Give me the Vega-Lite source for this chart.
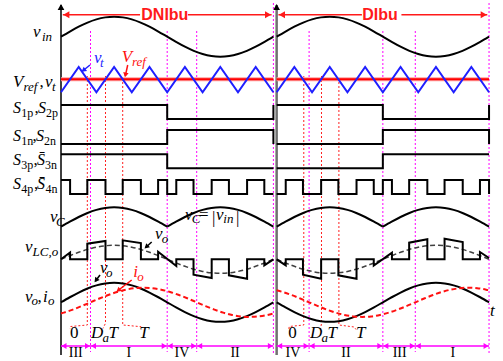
{
"$schema":"https://vega.github.io/schema/vega-lite/v6.json",
"width":503,"height":361,"padding":0,"autosize":{"type":"none"},
"background":"#ffffff",
"config":{"view":{"stroke":null}},
"datasets":{
"baselines":[{"y":36.7},{"y":92.3},{"y":119},{"y":144},{"y":168.3},{"y":194},{"y":226.7},{"y":259.3},{"y":302.3}]
},
"encoding":{
"x":{"field":"t","type":"quantitative","scale":{"domain":[-103.39,749.15],"nice":false,"zero":false},"axis":null},
"y":{"field":"y","type":"quantitative","scale":{"domain":[0,361],"reverse":true,"nice":false,"zero":false},"axis":null}
},
"layer":[
{"data":{"name":"baselines"},"mark":{"type":"rule","color":"#8c8c8c","strokeWidth":1},"encoding":{"x":{"datum":0},"x2":{"datum":737}}},
{"data":{"name":"baselines"},"mark":{"type":"point","shape":"triangle-right","filled":true,"color":"#000000","size":40,"opacity":1},"encoding":{"x":{"datum":739}}},
{"data":{"values":[{"t":50,"y":31,"y2":352},{"t":180,"y":31,"y2":352},{"t":230,"y":31,"y2":352},{"t":360,"y":3,"y2":353},{"t":420.5,"y":31,"y2":352},{"t":545.5,"y":31,"y2":352},{"t":600.5,"y":31,"y2":352},{"t":725.5,"y":3,"y2":353}]},
 "mark":{"type":"rule","color":"#ff00ff","strokeWidth":1,"strokeDash":[2,2]},"encoding":{"y2":{"field":"y2"}}},
{"data":{"values":[
{"id":"l1","t":44.6,"y":76},{"id":"l1","t":44.6,"y":325},{"id":"l1","t":16.4,"y":326.5},{"id":"l1","t":15.3,"y":329},
{"id":"l2","t":75.4,"y":76},{"id":"l2","t":75.4,"y":323.3},{"id":"l2","t":71,"y":328.5},
{"id":"l3","t":104.6,"y":78},{"id":"l3","t":104.6,"y":325},{"id":"l3","t":135.6,"y":326.7},{"id":"l3","t":136.8,"y":329.5},
{"id":"l4","t":411.5,"y":76},{"id":"l4","t":411.5,"y":325},{"id":"l4","t":386.9,"y":326.5},{"id":"l4","t":386,"y":329.5},
{"id":"l5","t":441.5,"y":76},{"id":"l5","t":441.5,"y":323.3},{"id":"l5","t":440,"y":329},
{"id":"l6","t":471,"y":78},{"id":"l6","t":471,"y":325},{"id":"l6","t":497,"y":327},{"id":"l6","t":500,"y":329.5}]},
 "mark":{"type":"line","color":"#ff2020","strokeWidth":1,"strokeDash":[2,2]},"encoding":{"detail":{"field":"id"},"order":{"value":null}}},
{"data":{"values":[{"t":0,"y":5,"y2":355}]},"mark":{"type":"rule","color":"#000000","strokeWidth":1.5},"encoding":{"y2":{"field":"y2"}}},
{"data":{"values":[{"t":365.5,"y":5,"y2":355}]},"mark":{"type":"rule","color":"#707070","strokeWidth":2.5},"encoding":{"y2":{"field":"y2"}}},
{"data":{"values":[{"t":0,"y":7},{"t":365.5,"y":7}]},"mark":{"type":"point","shape":"triangle-up","filled":true,"color":"#000000","size":45,"opacity":1}},
{"data":{"values":[{"id":"r1","t":0,"y":79.3},{"id":"r1","t":360,"y":79.3},{"id":"r2","t":365.5,"y":79.3},{"id":"r2","t":725.5,"y":79.3}]},
 "mark":{"type":"line","color":"#ff9c9c","strokeWidth":4},"encoding":{"detail":{"field":"id"}}},
{"data":{"values":[{"id":"r1","t":0,"y":79.3},{"id":"r1","t":360,"y":79.3},{"id":"r2","t":365.5,"y":79.3},{"id":"r2","t":725.5,"y":79.3}]},
 "mark":{"type":"line","color":"#ff0000","strokeWidth":2},"encoding":{"detail":{"field":"id"}}},
{"data":{"values":[
{"id":"vt1","t":0,"y":92.3},{"id":"vt1","t":30,"y":67},{"id":"vt1","t":60,"y":92.3},{"id":"vt1","t":90,"y":67},{"id":"vt1","t":120,"y":92.3},{"id":"vt1","t":150,"y":67},{"id":"vt1","t":180,"y":92.3},{"id":"vt1","t":210,"y":67},{"id":"vt1","t":240,"y":92.3},{"id":"vt1","t":270,"y":67},{"id":"vt1","t":300,"y":92.3},{"id":"vt1","t":330,"y":67},{"id":"vt1","t":360,"y":92.3},
{"id":"vt2","t":365.5,"y":92.3},{"id":"vt2","t":395.5,"y":67},{"id":"vt2","t":425.5,"y":92.3},{"id":"vt2","t":455.5,"y":67},{"id":"vt2","t":485.5,"y":92.3},{"id":"vt2","t":515.5,"y":67},{"id":"vt2","t":545.5,"y":92.3},{"id":"vt2","t":575.5,"y":67},{"id":"vt2","t":605.5,"y":92.3},{"id":"vt2","t":635.5,"y":67},{"id":"vt2","t":665.5,"y":92.3},{"id":"vt2","t":695.5,"y":67},{"id":"vt2","t":725.5,"y":92.3}]},
 "mark":{"type":"line","color":"#1f1fff","strokeWidth":2},"encoding":{"detail":{"field":"id"}}},
{"data":{"values":[
{"id":"vin1","t":0,"y":36.7},{"id":"vin1","t":15,"y":31.52},{"id":"vin1","t":30,"y":26.7},{"id":"vin1","t":45,"y":22.56},{"id":"vin1","t":60,"y":19.38},{"id":"vin1","t":75,"y":17.38},{"id":"vin1","t":90,"y":16.7},{"id":"vin1","t":105,"y":17.38},{"id":"vin1","t":120,"y":19.38},{"id":"vin1","t":135,"y":22.56},{"id":"vin1","t":150,"y":26.7},{"id":"vin1","t":165,"y":31.52},{"id":"vin1","t":180,"y":36.7},{"id":"vin1","t":195,"y":41.88},{"id":"vin1","t":210,"y":46.7},{"id":"vin1","t":225,"y":50.84},{"id":"vin1","t":240,"y":54.02},{"id":"vin1","t":255,"y":56.02},{"id":"vin1","t":270,"y":56.7},{"id":"vin1","t":285,"y":56.02},{"id":"vin1","t":300,"y":54.02},{"id":"vin1","t":315,"y":50.84},{"id":"vin1","t":330,"y":46.7},{"id":"vin1","t":345,"y":41.88},{"id":"vin1","t":360,"y":36.7},
{"id":"vin2","t":365.5,"y":36.7},{"id":"vin2","t":380.5,"y":31.52},{"id":"vin2","t":395.5,"y":26.7},{"id":"vin2","t":410.5,"y":22.56},{"id":"vin2","t":425.5,"y":19.38},{"id":"vin2","t":440.5,"y":17.38},{"id":"vin2","t":455.5,"y":16.7},{"id":"vin2","t":470.5,"y":17.38},{"id":"vin2","t":485.5,"y":19.38},{"id":"vin2","t":500.5,"y":22.56},{"id":"vin2","t":515.5,"y":26.7},{"id":"vin2","t":530.5,"y":31.52},{"id":"vin2","t":545.5,"y":36.7},{"id":"vin2","t":560.5,"y":41.88},{"id":"vin2","t":575.5,"y":46.7},{"id":"vin2","t":590.5,"y":50.84},{"id":"vin2","t":605.5,"y":54.02},{"id":"vin2","t":620.5,"y":56.02},{"id":"vin2","t":635.5,"y":56.7},{"id":"vin2","t":650.5,"y":56.02},{"id":"vin2","t":665.5,"y":54.02},{"id":"vin2","t":680.5,"y":50.84},{"id":"vin2","t":695.5,"y":46.7},{"id":"vin2","t":710.5,"y":41.88},{"id":"vin2","t":725.5,"y":36.7},
{"id":"vc1","t":0,"y":226.7},{"id":"vc1","t":15,"y":221.68},{"id":"vc1","t":30,"y":217.0},{"id":"vc1","t":45,"y":212.98},{"id":"vc1","t":60,"y":209.9},{"id":"vc1","t":75,"y":207.96},{"id":"vc1","t":90,"y":207.3},{"id":"vc1","t":105,"y":207.96},{"id":"vc1","t":120,"y":209.9},{"id":"vc1","t":135,"y":212.98},{"id":"vc1","t":150,"y":217.0},{"id":"vc1","t":165,"y":221.68},{"id":"vc1","t":180,"y":226.7},
{"id":"vc2","t":180,"y":226.7},{"id":"vc2","t":195,"y":221.68},{"id":"vc2","t":210,"y":217.0},{"id":"vc2","t":225,"y":212.98},{"id":"vc2","t":240,"y":209.9},{"id":"vc2","t":255,"y":207.96},{"id":"vc2","t":270,"y":207.3},{"id":"vc2","t":285,"y":207.96},{"id":"vc2","t":300,"y":209.9},{"id":"vc2","t":315,"y":212.98},{"id":"vc2","t":330,"y":217.0},{"id":"vc2","t":345,"y":221.68},{"id":"vc2","t":360,"y":226.7},
{"id":"vc3","t":365.5,"y":226.7},{"id":"vc3","t":380.5,"y":221.68},{"id":"vc3","t":395.5,"y":217.0},{"id":"vc3","t":410.5,"y":212.98},{"id":"vc3","t":425.5,"y":209.9},{"id":"vc3","t":440.5,"y":207.96},{"id":"vc3","t":455.5,"y":207.3},{"id":"vc3","t":470.5,"y":207.96},{"id":"vc3","t":485.5,"y":209.9},{"id":"vc3","t":500.5,"y":212.98},{"id":"vc3","t":515.5,"y":217.0},{"id":"vc3","t":530.5,"y":221.68},{"id":"vc3","t":545.5,"y":226.7},
{"id":"vc4","t":545.5,"y":226.7},{"id":"vc4","t":560.5,"y":221.68},{"id":"vc4","t":575.5,"y":217.0},{"id":"vc4","t":590.5,"y":212.98},{"id":"vc4","t":605.5,"y":209.9},{"id":"vc4","t":620.5,"y":207.96},{"id":"vc4","t":635.5,"y":207.3},{"id":"vc4","t":650.5,"y":207.96},{"id":"vc4","t":665.5,"y":209.9},{"id":"vc4","t":680.5,"y":212.98},{"id":"vc4","t":695.5,"y":217.0},{"id":"vc4","t":710.5,"y":221.68},{"id":"vc4","t":725.5,"y":226.7},
{"id":"vo1","t":0,"y":302.3},{"id":"vo1","t":15,"y":297.25},{"id":"vo1","t":30,"y":292.55},{"id":"vo1","t":45,"y":288.51},{"id":"vo1","t":60,"y":285.41},{"id":"vo1","t":75,"y":283.46},{"id":"vo1","t":90,"y":282.8},{"id":"vo1","t":105,"y":283.46},{"id":"vo1","t":120,"y":285.41},{"id":"vo1","t":135,"y":288.51},{"id":"vo1","t":150,"y":292.55},{"id":"vo1","t":165,"y":297.25},{"id":"vo1","t":180,"y":302.3},{"id":"vo1","t":195,"y":307.35},{"id":"vo1","t":210,"y":312.05},{"id":"vo1","t":225,"y":316.09},{"id":"vo1","t":240,"y":319.19},{"id":"vo1","t":255,"y":321.14},{"id":"vo1","t":270,"y":321.8},{"id":"vo1","t":285,"y":321.14},{"id":"vo1","t":300,"y":319.19},{"id":"vo1","t":315,"y":316.09},{"id":"vo1","t":330,"y":312.05},{"id":"vo1","t":345,"y":307.35},{"id":"vo1","t":360,"y":302.3},
{"id":"vo2","t":365.5,"y":302.3},{"id":"vo2","t":380.5,"y":307.35},{"id":"vo2","t":395.5,"y":312.05},{"id":"vo2","t":410.5,"y":316.09},{"id":"vo2","t":425.5,"y":319.19},{"id":"vo2","t":440.5,"y":321.14},{"id":"vo2","t":455.5,"y":321.8},{"id":"vo2","t":470.5,"y":321.14},{"id":"vo2","t":485.5,"y":319.19},{"id":"vo2","t":500.5,"y":316.09},{"id":"vo2","t":515.5,"y":312.05},{"id":"vo2","t":530.5,"y":307.35},{"id":"vo2","t":545.5,"y":302.3},{"id":"vo2","t":560.5,"y":297.25},{"id":"vo2","t":575.5,"y":292.55},{"id":"vo2","t":590.5,"y":288.51},{"id":"vo2","t":605.5,"y":285.41},{"id":"vo2","t":620.5,"y":283.46},{"id":"vo2","t":635.5,"y":282.8},{"id":"vo2","t":650.5,"y":283.46},{"id":"vo2","t":665.5,"y":285.41},{"id":"vo2","t":680.5,"y":288.51},{"id":"vo2","t":695.5,"y":292.55},{"id":"vo2","t":710.5,"y":297.25},{"id":"vo2","t":725.5,"y":302.3}]},
 "mark":{"type":"line","color":"#000000","strokeWidth":2,"interpolate":"monotone"},"encoding":{"detail":{"field":"id"}}},
{"data":{"values":[
{"id":"d1","t":0,"y":259.3},{"id":"d1","t":15,"y":255.68},{"id":"d1","t":30,"y":252.3},{"id":"d1","t":45,"y":249.4},{"id":"d1","t":60,"y":247.18},{"id":"d1","t":75,"y":245.78},{"id":"d1","t":90,"y":245.3},{"id":"d1","t":105,"y":245.78},{"id":"d1","t":120,"y":247.18},{"id":"d1","t":135,"y":249.4},{"id":"d1","t":150,"y":252.3},{"id":"d1","t":165,"y":255.68},{"id":"d1","t":180,"y":259.3},{"id":"d1","t":195,"y":262.92},{"id":"d1","t":210,"y":266.3},{"id":"d1","t":225,"y":269.2},{"id":"d1","t":240,"y":271.42},{"id":"d1","t":255,"y":272.82},{"id":"d1","t":270,"y":273.3},{"id":"d1","t":285,"y":272.82},{"id":"d1","t":300,"y":271.42},{"id":"d1","t":315,"y":269.2},{"id":"d1","t":330,"y":266.3},{"id":"d1","t":345,"y":262.92},{"id":"d1","t":360,"y":259.3},
{"id":"d2","t":365.5,"y":259.3},{"id":"d2","t":380.5,"y":262.92},{"id":"d2","t":395.5,"y":266.3},{"id":"d2","t":410.5,"y":269.2},{"id":"d2","t":425.5,"y":271.42},{"id":"d2","t":440.5,"y":272.82},{"id":"d2","t":455.5,"y":273.3},{"id":"d2","t":470.5,"y":272.82},{"id":"d2","t":485.5,"y":271.42},{"id":"d2","t":500.5,"y":269.2},{"id":"d2","t":515.5,"y":266.3},{"id":"d2","t":530.5,"y":262.92},{"id":"d2","t":545.5,"y":259.3},{"id":"d2","t":560.5,"y":255.68},{"id":"d2","t":575.5,"y":252.3},{"id":"d2","t":590.5,"y":249.4},{"id":"d2","t":605.5,"y":247.18},{"id":"d2","t":620.5,"y":245.78},{"id":"d2","t":635.5,"y":245.3},{"id":"d2","t":650.5,"y":245.78},{"id":"d2","t":665.5,"y":247.18},{"id":"d2","t":680.5,"y":249.4},{"id":"d2","t":695.5,"y":252.3},{"id":"d2","t":710.5,"y":255.68},{"id":"d2","t":725.5,"y":259.3}]},
 "mark":{"type":"line","color":"#404040","strokeWidth":1.5,"strokeDash":[5,3],"interpolate":"monotone"},"encoding":{"detail":{"field":"id"}}},
{"data":{"values":[
{"id":"s1p1","t":0,"y":105},{"id":"s1p1","t":180,"y":105},{"id":"s1p1","t":180,"y":119},{"id":"s1p1","t":360,"y":119},{"id":"s1p1","t":360,"y":105},
{"id":"s1p2","t":365.5,"y":105},{"id":"s1p2","t":545.5,"y":105},{"id":"s1p2","t":545.5,"y":119},{"id":"s1p2","t":725.5,"y":119},{"id":"s1p2","t":725.5,"y":105},
{"id":"s1n1","t":0,"y":144},{"id":"s1n1","t":180,"y":144},{"id":"s1n1","t":180,"y":130},{"id":"s1n1","t":360,"y":130},{"id":"s1n1","t":360,"y":144},
{"id":"s1n2","t":365.5,"y":144},{"id":"s1n2","t":545.5,"y":144},{"id":"s1n2","t":545.5,"y":130},{"id":"s1n2","t":725.5,"y":130},{"id":"s1n2","t":725.5,"y":144},
{"id":"s3p1","t":0,"y":154.3},{"id":"s3p1","t":180,"y":154.3},{"id":"s3p1","t":180,"y":168.3},{"id":"s3p1","t":360,"y":168.3},
{"id":"s3p2","t":365.5,"y":168.3},{"id":"s3p2","t":545.5,"y":168.3},{"id":"s3p2","t":545.5,"y":154.3},{"id":"s3p2","t":725.5,"y":154.3},
{"id":"s41","t":0,"y":180},{"id":"s41","t":15.4,"y":180},{"id":"s41","t":15.4,"y":194},{"id":"s41","t":44.6,"y":194},{"id":"s41","t":44.6,"y":180},{"id":"s41","t":75.4,"y":180},{"id":"s41","t":75.4,"y":194},{"id":"s41","t":104.6,"y":194},{"id":"s41","t":104.6,"y":180},{"id":"s41","t":135.4,"y":180},{"id":"s41","t":135.4,"y":194},{"id":"s41","t":164.6,"y":194},{"id":"s41","t":164.6,"y":180},{"id":"s41","t":180,"y":180},{"id":"s41","t":180,"y":194},{"id":"s41","t":195.4,"y":194},{"id":"s41","t":195.4,"y":180},{"id":"s41","t":224.6,"y":180},{"id":"s41","t":224.6,"y":194},{"id":"s41","t":255.4,"y":194},{"id":"s41","t":255.4,"y":180},{"id":"s41","t":284.6,"y":180},{"id":"s41","t":284.6,"y":194},{"id":"s41","t":315.4,"y":194},{"id":"s41","t":315.4,"y":180},{"id":"s41","t":344.6,"y":180},{"id":"s41","t":344.6,"y":194},{"id":"s41","t":360,"y":194},
{"id":"s42","t":365.5,"y":194},{"id":"s42","t":380.9,"y":194},{"id":"s42","t":380.9,"y":180},{"id":"s42","t":410.1,"y":180},{"id":"s42","t":410.1,"y":194},{"id":"s42","t":440.9,"y":194},{"id":"s42","t":440.9,"y":180},{"id":"s42","t":470.1,"y":180},{"id":"s42","t":470.1,"y":194},{"id":"s42","t":500.9,"y":194},{"id":"s42","t":500.9,"y":180},{"id":"s42","t":530.1,"y":180},{"id":"s42","t":530.1,"y":194},{"id":"s42","t":545.5,"y":194},{"id":"s42","t":545.5,"y":180},{"id":"s42","t":560.9,"y":180},{"id":"s42","t":560.9,"y":194},{"id":"s42","t":590.1,"y":194},{"id":"s42","t":590.1,"y":180},{"id":"s42","t":620.9,"y":180},{"id":"s42","t":620.9,"y":194},{"id":"s42","t":650.1,"y":194},{"id":"s42","t":650.1,"y":180},{"id":"s42","t":680.9,"y":180},{"id":"s42","t":680.9,"y":194},{"id":"s42","t":710.1,"y":194},{"id":"s42","t":710.1,"y":180},{"id":"s42","t":725.5,"y":180},{"id":"s42","t":725.5,"y":194},
{"id":"lc1","t":0,"y":259.3},{"id":"lc1","t":15.4,"y":252.5},{"id":"lc1","t":15.4,"y":259.3},{"id":"lc1","t":44.6,"y":259.3},{"id":"lc1","t":44.6,"y":243.7},{"id":"lc1","t":75.4,"y":241},{"id":"lc1","t":75.4,"y":259.3},{"id":"lc1","t":104.6,"y":259.3},{"id":"lc1","t":104.6,"y":240.3},{"id":"lc1","t":135.4,"y":243},{"id":"lc1","t":135.4,"y":259.3},{"id":"lc1","t":164.6,"y":259.3},{"id":"lc1","t":164.6,"y":251.7},{"id":"lc1","t":195.4,"y":266},{"id":"lc1","t":195.4,"y":259.3},{"id":"lc1","t":224.6,"y":259.3},{"id":"lc1","t":224.6,"y":274.7},{"id":"lc1","t":255.4,"y":278},{"id":"lc1","t":255.4,"y":259.3},{"id":"lc1","t":284.6,"y":259.3},{"id":"lc1","t":284.6,"y":275.3},{"id":"lc1","t":315.4,"y":278.7},{"id":"lc1","t":315.4,"y":259.3},{"id":"lc1","t":344.6,"y":259.3},{"id":"lc1","t":344.6,"y":265.3},{"id":"lc1","t":360,"y":259.3},
{"id":"lc2","t":365.5,"y":259.3},{"id":"lc2","t":380.9,"y":265.3},{"id":"lc2","t":380.9,"y":259.3},{"id":"lc2","t":410.1,"y":259.3},{"id":"lc2","t":410.1,"y":274.7},{"id":"lc2","t":440.9,"y":278.7},{"id":"lc2","t":440.9,"y":259.3},{"id":"lc2","t":470.1,"y":259.3},{"id":"lc2","t":470.1,"y":275.3},{"id":"lc2","t":500.9,"y":278.7},{"id":"lc2","t":500.9,"y":259.3},{"id":"lc2","t":530.1,"y":259.3},{"id":"lc2","t":530.1,"y":265.5},{"id":"lc2","t":560.9,"y":252.7},{"id":"lc2","t":560.9,"y":259.3},{"id":"lc2","t":590.1,"y":259.3},{"id":"lc2","t":590.1,"y":242.7},{"id":"lc2","t":620.9,"y":239.3},{"id":"lc2","t":620.9,"y":259.3},{"id":"lc2","t":650.1,"y":259.3},{"id":"lc2","t":650.1,"y":238.7},{"id":"lc2","t":680.9,"y":242},{"id":"lc2","t":680.9,"y":259.3},{"id":"lc2","t":710.1,"y":259.3},{"id":"lc2","t":710.1,"y":252},{"id":"lc2","t":725.5,"y":258}]},
 "mark":{"type":"line","color":"#000000","strokeWidth":2},"encoding":{"detail":{"field":"id"},"order":{"value":null}}},
{"data":{"values":[
{"id":"io1","t":0,"y":313.48},{"id":"io1","t":5,"y":312.62},{"id":"io1","t":20,"y":309.6},{"id":"io1","t":35,"y":306.08},{"id":"io1","t":50,"y":302.3},{"id":"io1","t":65,"y":298.52},{"id":"io1","t":80,"y":295.0},{"id":"io1","t":95,"y":291.98},{"id":"io1","t":110,"y":289.66},{"id":"io1","t":125,"y":288.2},{"id":"io1","t":140,"y":287.7},{"id":"io1","t":155,"y":288.2},{"id":"io1","t":170,"y":289.66},{"id":"io1","t":185,"y":291.98},{"id":"io1","t":200,"y":295.0},{"id":"io1","t":215,"y":298.52},{"id":"io1","t":230,"y":302.3},{"id":"io1","t":245,"y":306.08},{"id":"io1","t":260,"y":309.6},{"id":"io1","t":275,"y":312.62},{"id":"io1","t":290,"y":314.94},{"id":"io1","t":305,"y":316.4},{"id":"io1","t":320,"y":316.9},{"id":"io1","t":335,"y":316.4},{"id":"io1","t":350,"y":314.94},{"id":"io1","t":360,"y":313.48},
{"id":"io2","t":365.5,"y":290.34},{"id":"io2","t":375.5,"y":291.98},{"id":"io2","t":390.5,"y":294.99},{"id":"io2","t":405.5,"y":298.52},{"id":"io2","t":420.5,"y":302.3},{"id":"io2","t":435.5,"y":306.08},{"id":"io2","t":450.5,"y":309.6},{"id":"io2","t":465.5,"y":312.62},{"id":"io2","t":480.5,"y":314.94},{"id":"io2","t":495.5,"y":316.4},{"id":"io2","t":510.5,"y":316.9},{"id":"io2","t":525.5,"y":316.4},{"id":"io2","t":540.5,"y":314.94},{"id":"io2","t":555.5,"y":312.62},{"id":"io2","t":570.5,"y":309.6},{"id":"io2","t":585.5,"y":306.08},{"id":"io2","t":600.5,"y":302.3},{"id":"io2","t":615.5,"y":298.52},{"id":"io2","t":630.5,"y":295.0},{"id":"io2","t":645.5,"y":291.98},{"id":"io2","t":660.5,"y":289.66},{"id":"io2","t":675.5,"y":288.2},{"id":"io2","t":690.5,"y":287.7},{"id":"io2","t":705.5,"y":288.2},{"id":"io2","t":720.5,"y":289.66},{"id":"io2","t":725.5,"y":290.34}]},
 "mark":{"type":"line","color":"#ff1010","strokeWidth":2,"strokeDash":[5,3],"interpolate":"monotone"},"encoding":{"detail":{"field":"id"}}},
{"data":{"values":[{"t":0,"t2":360,"y":346},{"t":365.5,"t2":725.5,"y":346}]},"mark":{"type":"rule","color":"#ff00ff","strokeWidth":1.5},"encoding":{"x2":{"field":"t2"}}},
{"data":{"values":[{"t":45,"y":346},{"t":175,"y":346},{"t":225,"y":346},{"t":355,"y":346},{"t":415.5,"y":346},{"t":540.5,"y":346},{"t":595.5,"y":346},{"t":720.5,"y":346}]},"mark":{"type":"point","shape":"triangle-right","filled":true,"color":"#ff00ff","size":35,"opacity":1}},
{"data":{"values":[{"t":5,"y":346},{"t":55,"y":346},{"t":185,"y":346},{"t":235,"y":346},{"t":370.5,"y":346},{"t":425.5,"y":346},{"t":550.5,"y":346},{"t":605.5,"y":346}]},"mark":{"type":"point","shape":"triangle-left","filled":true,"color":"#ff00ff","size":35,"opacity":1}},
{"data":{"values":[{"t":3,"t2":134,"y":14.7},{"t":215,"t2":357,"y":14.7},{"t":368.5,"t2":510,"y":14.7},{"t":577,"t2":722.5,"y":14.7}]},"mark":{"type":"rule","color":"#ff1a1a","strokeWidth":1.5},"encoding":{"x2":{"field":"t2"}}},
{"data":{"values":[{"t":9,"y":14.7},{"t":374.5,"y":14.7}]},"mark":{"type":"point","shape":"triangle-left","filled":true,"color":"#ff1a1a","size":50,"opacity":1}},
{"data":{"values":[{"t":351,"y":14.7},{"t":716.5,"y":14.7}]},"mark":{"type":"point","shape":"triangle-right","filled":true,"color":"#ff1a1a","size":50,"opacity":1}},
{"data":{"values":[{"t":176,"y":15,"text":"DNIbu"},{"t":540.7,"y":15,"text":"DIbu"}]},"mark":{"type":"text","font":"Liberation Sans","fontWeight":"bold","fontSize":16,"color":"#ff1a1a","align":"center","baseline":"middle"},"encoding":{"text":{"field":"text"}}},
{"data":{"values":[{"id":"a1","t":49.15,"y":65},{"id":"a1","t":36.5,"y":71}]},"mark":{"type":"line","color":"#1f1fff","strokeWidth":1.5},"encoding":{"detail":{"field":"id"}}},
{"data":{"values":[{"id":"a2","t":113.05,"y":65},{"id":"a2","t":109,"y":76},{"id":"a3","t":119.8,"y":280},{"id":"a3","t":95.5,"y":291}]},"mark":{"type":"line","color":"#ff1010","strokeWidth":1.5},"encoding":{"detail":{"field":"id"}}},
{"data":{"values":[{"id":"a4","t":153.7,"y":242},{"id":"a4","t":143.5,"y":247.5},{"id":"a5","t":66.1,"y":275},{"id":"a5","t":58.5,"y":281}]},"mark":{"type":"line","color":"#000000","strokeWidth":1.5},"encoding":{"detail":{"field":"id"}}},
{"data":{"values":[{"t":38.1,"y":70.3}]},"mark":{"type":"point","shape":"triangle-up","filled":true,"color":"#1f1fff","size":30,"opacity":1,"angle":231}},
{"data":{"values":[{"t":109.2,"y":75}]},"mark":{"type":"point","shape":"triangle-up","filled":true,"color":"#ff1010","size":30,"opacity":1,"angle":192}},
{"data":{"values":[{"t":97.1,"y":290.4}]},"mark":{"type":"point","shape":"triangle-up","filled":true,"color":"#ff1010","size":30,"opacity":1,"angle":232}},
{"data":{"values":[{"t":144.6,"y":246.8}]},"mark":{"type":"point","shape":"triangle-up","filled":true,"color":"#000000","size":30,"opacity":1,"angle":228}},
{"data":{"values":[{"t":59.3,"y":280.3}]},"mark":{"type":"point","shape":"triangle-up","filled":true,"color":"#000000","size":30,"opacity":1,"angle":217}},
{"data":{"values":[
{"t":-47.46,"y":36.5,"text":"v"},{"t":-81.36,"y":86.5,"text":"V"},{"t":-27.12,"y":86.5,"text":"v"},
{"t":-18.64,"y":221.7,"text":"v"},{"t":-61.02,"y":251.7,"text":"v"},
{"t":-61.02,"y":301.5,"text":"v"},{"t":-30.51,"y":301.5,"text":"i"},
{"t":159.32,"y":239.3,"text":"v"},{"t":66.1,"y":273.3,"text":"v"},
{"t":210.17,"y":220,"text":"v"},{"t":262.71,"y":220,"text":"v"},
{"t":727.12,"y":316,"text":"t"},
{"t":50.85,"y":337.7,"text":"D"},{"t":80.5,"y":337.7,"text":"T"},{"t":132.71,"y":337.7,"text":"T"},
{"t":422,"y":337.7,"text":"D"},{"t":451.7,"y":337.7,"text":"T"},{"t":500,"y":337.7,"text":"T"}]},
 "mark":{"type":"text","font":"Liberation Serif","fontStyle":"italic","fontSize":17,"color":"#000000","align":"left","baseline":"alphabetic"},"encoding":{"text":{"field":"text"}}},
{"data":{"values":[
{"t":-81.36,"y":113.3,"text":"S"},{"t":-38.98,"y":113.3,"text":"S"},
{"t":-81.36,"y":140.7,"text":"S"},{"t":-42.37,"y":140.7,"text":"S"},
{"t":-81.36,"y":165,"text":"S"},{"t":-40.68,"y":165,"text":"S\u0304"},
{"t":-81.36,"y":189.3,"text":"S"},{"t":-40.68,"y":189.3,"text":"S\u0304"}]},
 "mark":{"type":"text","font":"Liberation Serif","fontStyle":"italic","fontSize":16,"color":"#000000","align":"left","baseline":"alphabetic"},"encoding":{"text":{"field":"text"}}},
{"data":{"values":[
{"t":-32.2,"y":40.5,"text":"in"},{"t":-63.56,"y":90.5,"text":"ref"},{"t":-15.25,"y":90.5,"text":"t"},
{"t":-8.47,"y":226,"text":"C"},{"t":-48.31,"y":256,"text":"LC,o"},{"t":-50,"y":305,"text":"o"},{"t":-22.03,"y":305,"text":"o"},
{"t":170.68,"y":242.5,"text":"o"},{"t":76.27,"y":277,"text":"o"},{"t":221.53,"y":223.3,"text":"C"},{"t":275.08,"y":223.3,"text":"in"},
{"t":70.34,"y":341.5,"text":"a"},{"t":441.5,"y":341.5,"text":"a"}]},
 "mark":{"type":"text","font":"Liberation Serif","fontStyle":"italic","fontSize":13,"color":"#000000","align":"left","baseline":"alphabetic"},"encoding":{"text":{"field":"text"}}},
{"data":{"values":[
{"t":-67.3,"y":117,"text":"1p"},{"t":-25.42,"y":117,"text":"2p"},{"t":-67.3,"y":144.5,"text":"1n"},{"t":-28.8,"y":144.5,"text":"2n"},
{"t":-67.3,"y":169,"text":"3p"},{"t":-27.1,"y":169,"text":"3n"},{"t":-67.3,"y":193.3,"text":"4p"},{"t":-26.27,"y":193.3,"text":"4n"}]},
 "mark":{"type":"text","font":"Liberation Serif","fontSize":12,"color":"#000000","align":"left","baseline":"alphabetic"},"encoding":{"text":{"field":"text"}}},
{"data":{"values":[
{"t":-36.44,"y":86.5,"text":","},{"t":-44.92,"y":113.3,"text":","},{"t":-48.31,"y":140.7,"text":","},{"t":-46.61,"y":165,"text":","},{"t":-45.76,"y":189.3,"text":","},{"t":-39.83,"y":301.5,"text":","},
{"t":233.9,"y":220,"text":"="},{"t":255.93,"y":222.5,"text":"|"},{"t":296.61,"y":222.5,"text":"|"},
{"t":15.25,"y":337.7,"text":"0"},{"t":385.25,"y":337.7,"text":"0"}]},
 "mark":{"type":"text","font":"Liberation Serif","fontSize":17,"color":"#000000","align":"left","baseline":"alphabetic"},"encoding":{"text":{"field":"text"}}},
{"data":{"values":[{"t":55.93,"y":63.3,"text":"v"}]},"mark":{"type":"text","font":"Liberation Serif","fontStyle":"italic","fontSize":17,"color":"#1f1fff","align":"left","baseline":"alphabetic"},"encoding":{"text":{"field":"text"}}},
{"data":{"values":[{"t":66.1,"y":66.5,"text":"t"}]},"mark":{"type":"text","font":"Liberation Serif","fontStyle":"italic","fontSize":13,"color":"#1f1fff","align":"left","baseline":"alphabetic"},"encoding":{"text":{"field":"text"}}},
{"data":{"values":[{"t":102.88,"y":61.7,"text":"V"},{"t":122.54,"y":276.7,"text":"i"}]},"mark":{"type":"text","font":"Liberation Serif","fontStyle":"italic","fontSize":17,"color":"#ff1010","align":"left","baseline":"alphabetic"},"encoding":{"text":{"field":"text"}}},
{"data":{"values":[{"t":120.34,"y":65.5,"text":"ref"},{"t":129.32,"y":280.5,"text":"o"}]},"mark":{"type":"text","font":"Liberation Serif","fontStyle":"italic","fontSize":13,"color":"#ff1010","align":"left","baseline":"alphabetic"},"encoding":{"text":{"field":"text"}}},
{"data":{"values":[{"t":25,"y":357,"text":"III"},{"t":115,"y":357,"text":"I"},{"t":205,"y":357,"text":"IV"},{"t":295,"y":357,"text":"II"},{"t":393,"y":357,"text":"IV"},{"t":483,"y":357,"text":"II"},{"t":574,"y":357,"text":"III"},{"t":664,"y":357,"text":"I"}]},
 "mark":{"type":"text","font":"Liberation Serif","fontSize":14,"color":"#000000","align":"center","baseline":"alphabetic"},"encoding":{"text":{"field":"text"}}}
]
}
